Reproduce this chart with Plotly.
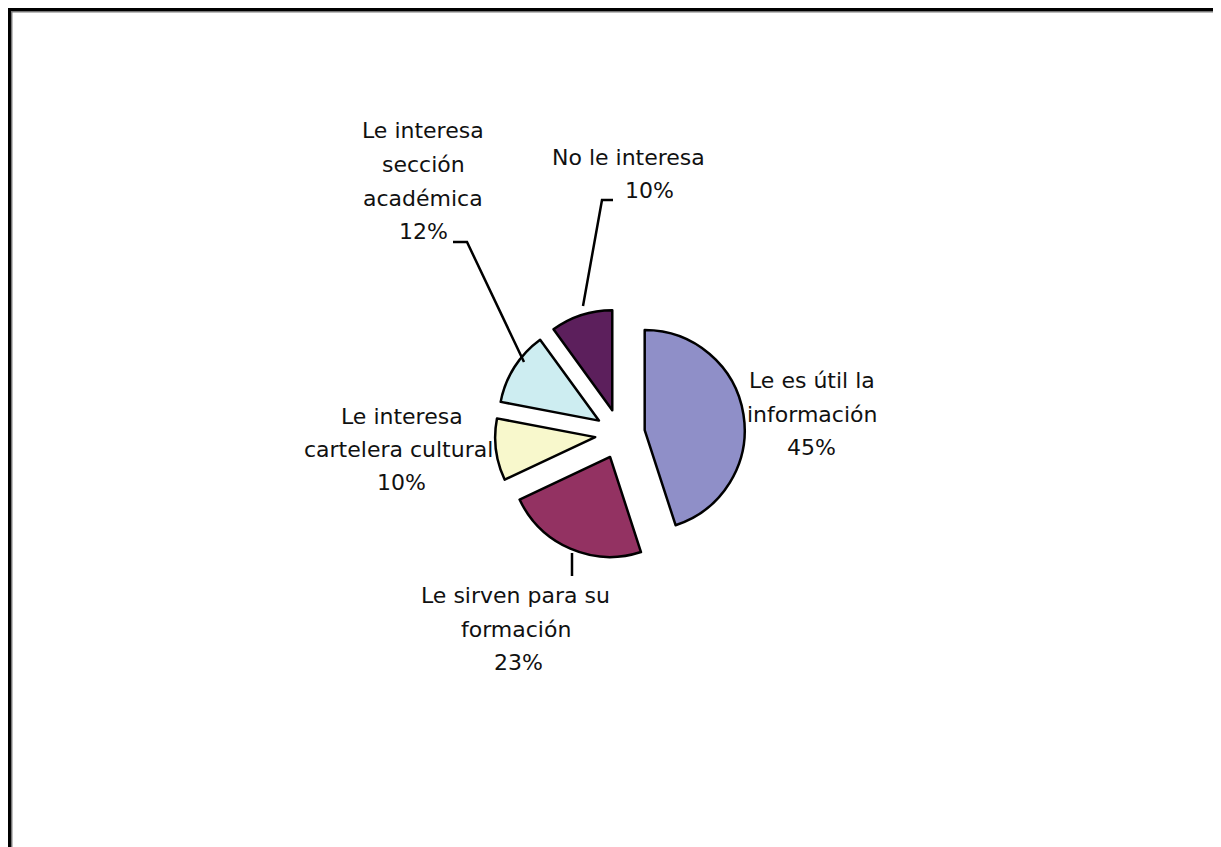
import plotly.graph_objects as go

# ---- data ----
categories = [
    "Le es útil la información",
    "Le sirven para su formación",
    "Le interesa cartelera cultural",
    "Le interesa sección académica",
    "No le interesa",
]
percentages = [45, 23, 10, 12, 10]
# how each label is broken into lines in the picture
label_lines = [
    ["Le es útil la", "información"],
    ["Le sirven para su", "formación"],
    ["Le interesa", "cartelera cultural"],
    ["Le interesa", "sección", "académica"],
    ["No le interesa"],
]
colors = ["#8F8FC8", "#933262", "#F8F8CC", "#CDEDF1", "#5C1F5C"]

# page has an 8px body margin; the figure starts at (8, 8)
OFF = 8
W, H = 1221 - OFF, 847 - OFF


def px(x):
    return (x - OFF) / W


def py(y):
    return 1 - (y - OFF) / H


# pie placement (page pixels)
cx, cy, half = 620, 434, 125
pull = 0.25

fig = go.Figure(
    go.Pie(
        labels=categories,
        values=percentages,
        sort=False,
        direction="clockwise",
        rotation=0,
        pull=[pull] * len(percentages),
        marker=dict(colors=colors, line=dict(color="#000000", width=2.5)),
        textinfo="none",
        hoverinfo="label+percent",
        showlegend=False,
        domain=dict(x=[px(cx - half), px(cx + half)], y=[py(cy + half), py(cy - half)]),
    )
)

# label line positions (center x, baseline y) in page pixels, one list per category
line_pos = [
    [(812, 388), (812, 422), (811, 455)],
    [(515, 603), (516, 637), (518, 670)],
    [(402, 424), (398, 457), (401, 490)],
    [(423, 138), (423, 172), (423, 206), (423, 239)],
    [(628, 165), (649, 198)],
]

FS = 22
annotations = []
for lines, pct, pos in zip(label_lines, percentages, line_pos):
    texts = lines + [f"{pct}%"]
    for t, (x, b) in zip(texts, pos):
        annotations.append(
            dict(
                x=px(x), y=py(b - 0.346 * FS), xref="paper", yref="paper",
                text=t, showarrow=False, xanchor="center", yanchor="middle",
                font=dict(family="DejaVu Sans", size=FS, color="#111111"),
            )
        )


def path(points):
    return "M " + " L ".join(f"{px(x)},{py(y)}" for x, y in points)


shapes = []
# leader lines
for pts in [
    [(572, 553), (572, 576)],
    [(613, 200), (602, 200), (583, 306)],
    [(453, 242), (467, 242), (524, 362)],
]:
    shapes.append(dict(type="path", path=path(pts), xref="paper", yref="paper",
                       line=dict(color="#000000", width=2.5)))

# frame (top and left only)
shapes += [
    dict(type="line", xref="paper", yref="paper", x0=px(8), x1=1, y0=py(9.5), y1=py(9.5),
         line=dict(color="#000000", width=3)),
    dict(type="line", xref="paper", yref="paper", x0=px(9.5), x1=px(9.5), y0=py(8), y1=0,
         line=dict(color="#000000", width=3)),
    dict(type="line", xref="paper", yref="paper", x0=px(11), x1=1, y0=py(11.7), y1=py(11.7),
         line=dict(color="#777777", width=1.5)),
    dict(type="line", xref="paper", yref="paper", x0=px(11.7), x1=px(11.7), y0=py(11), y1=0,
         line=dict(color="#777777", width=1.5)),
]

fig.update_layout(
    width=W, height=H,
    margin=dict(l=0, r=0, t=0, b=0),
    paper_bgcolor="#FFFFFF", plot_bgcolor="#FFFFFF",
    annotations=annotations, shapes=shapes,
)

fig.write_html("out.html")
